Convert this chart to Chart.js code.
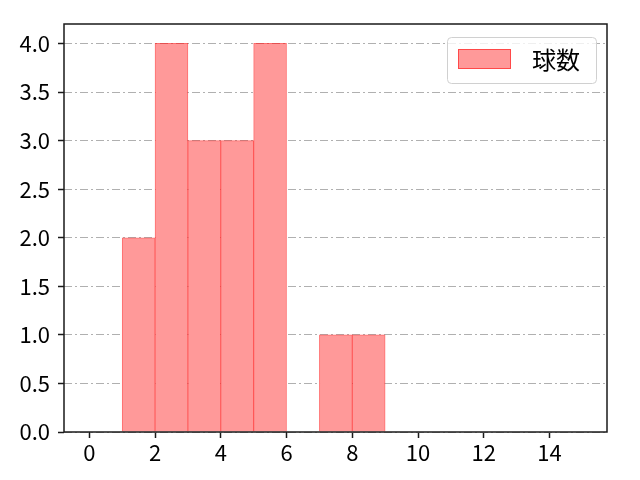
<!DOCTYPE html>
<html>
<head>
<meta charset="utf-8">
<script src="https://cdn.jsdelivr.net/npm/chart.js@4"></script>
<style>
  html, body { margin: 0; padding: 0; background: #fff; }
  #wrap { width: 640px; height: 480px; }
</style>
</head>
<body>
<div id="wrap"><canvas id="chart" width="640" height="480"></canvas></div>
<script>
// histogram bins (width 1) and counts
const binCenters = [1.5, 2.5, 3.5, 4.5, 5.5, 6.5, 7.5, 8.5];
const counts = [2, 4, 3, 3, 4, 0, 1, 1];
const seriesLabel = '球数';
const xTicks = [0, 2, 4, 6, 8, 10, 12, 14];
const yTicks = [0, 0.5, 1, 1.5, 2, 2.5, 3, 3.5, 4];

const FONT = '"Noto Sans CJK JP", "Noto Sans", sans-serif';

// black frame around the plot area, drawn over the bars like matplotlib spines
const framePlugin = {
    id: 'frame',
    afterDatasetsDraw(chart) {
        const a = chart.chartArea;
        const ctx = chart.ctx;
        ctx.save();
        ctx.strokeStyle = '#1a1a1a';
        ctx.lineWidth = 1.5;
        ctx.strokeRect(a.left, a.top, a.right - a.left, a.bottom - a.top);
        ctx.restore();
    }
};

// legend box in the upper right corner of the plot
const legendPlugin = {
    id: 'boxLegend',
    afterDraw(chart) {
        const ds = chart.data.datasets[0];
        const ctx = chart.ctx;
        const a = chart.chartArea;
        const x = a.right - 160, y = a.top + 13, w = 149, h = 46;
        ctx.save();
        ctx.fillStyle = 'rgba(255,255,255,0.8)';
        ctx.strokeStyle = '#d0d0d0';
        ctx.lineWidth = 1;
        ctx.beginPath();
        ctx.roundRect(x + 0.5, y + 0.5, w, h, 4);
        ctx.fill();
        ctx.stroke();
        ctx.fillStyle = ds.backgroundColor;
        ctx.fillRect(x + 11, y + 12, 53, 20);
        ctx.strokeStyle = ds.borderColor;
        ctx.strokeRect(x + 11.5, y + 12.5, 52, 19);
        ctx.fillStyle = '#000';
        ctx.font = '24px ' + FONT;
        ctx.textBaseline = 'middle';
        ctx.fillText(ds.label, x + 85, y + 23);
        ctx.restore();
    }
};

new Chart(document.getElementById('chart'), {
    type: 'bar',
    data: {
        datasets: [{
            label: seriesLabel,
            data: binCenters.map((c, i) => ({ x: c, y: counts[i] })),
            backgroundColor: '#ff9999',
            borderColor: 'rgba(255, 30, 30, 0.65)',
            borderWidth: 1,
            barPercentage: 1,
            categoryPercentage: 1
        }]
    },
    options: {
        responsive: false,
        animation: false,
        layout: { padding: { top: 24, right: 33, left: 0, bottom: 0 } },
        plugins: {
            legend: { display: false },
            tooltip: { enabled: false }
        },
        scales: {
            x: {
                type: 'linear',
                min: -0.77,
                max: 15.75,
                offset: false,
                afterBuildTicks: s => { s.ticks = xTicks.map(v => ({ value: v })); },
                afterFit: s => { s.height = 48; },
                ticks: {
                    color: '#000',
                    font: { family: FONT, size: 22 },
                    padding: 1,
                    maxRotation: 0,
                    autoSkip: false
                },
                grid: {
                    drawOnChartArea: false,
                    offset: false,
                    tickColor: '#1a1a1a',
                    tickLength: 6,
                    tickWidth: 1.5
                },
                border: { display: false }
            },
            y: {
                min: 0,
                max: 4.2,
                afterBuildTicks: s => { s.ticks = yTicks.map(v => ({ value: v })); },
                afterFit: s => { s.width = 64; },
                ticks: {
                    color: '#000',
                    font: { family: FONT, size: 22 },
                    padding: 8,
                    callback: v => v.toFixed(1)
                },
                grid: {
                    color: '#b0b0b0',
                    lineWidth: 1,
                    tickColor: '#1a1a1a',
                    tickLength: 6,
                    tickWidth: 1.5
                },
                border: { display: false, dash: [8, 3, 2, 3] }
            }
        }
    },
    plugins: [framePlugin, legendPlugin]
});
</script>
</body>
</html>
